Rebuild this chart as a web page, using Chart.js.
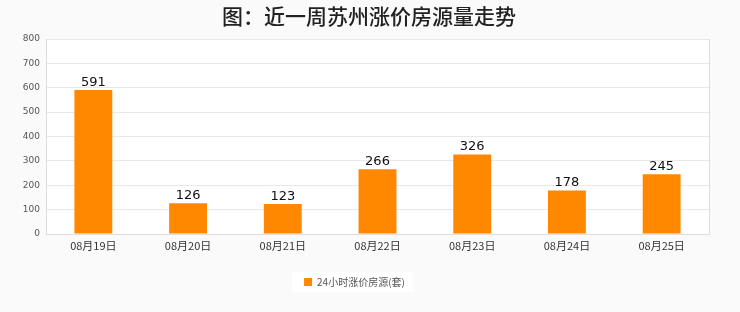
<!DOCTYPE html>
<html><head><meta charset="utf-8">
<script src="https://cdn.jsdelivr.net/npm/chart.js@4/dist/chart.umd.min.js"></script>
<style>html,body{margin:0;padding:0;background:#fafafa;}#wrap{width:740px;height:312px;}</style>
</head><body><div id="wrap"><canvas id="c" width="740" height="312"></canvas></div>
<script>
const categories = ["08月19日","08月20日","08月21日","08月22日","08月23日","08月24日","08月25日"];
const seriesName = "24小时涨价房源(套)";
const values = [591,126,123,266,326,178,245];
const titleText = "图：近一周苏州涨价房源量走势";

const bgPlugin = {
  id:'bg',
  beforeDraw(chart){
    const {ctx, chartArea:a} = chart;
    ctx.save(); ctx.fillStyle='#ffffff';
    ctx.fillRect(a.left,a.top,a.right-a.left,a.bottom-a.top);
    const lg = chart.legend;
    if (lg && lg.legendHitBoxes && lg.legendHitBoxes.length){
      const h = lg.legendHitBoxes[0];
      ctx.fillRect(h.left-12, h.top-5, h.width+20, h.height+10);
    }
    ctx.restore();
  },
  afterDraw(chart){
    const ctx = chart.ctx; const a = chart.chartArea;
    ctx.save();
    ctx.fillStyle='#222';
    ctx.font='500 21px "Noto Sans CJK SC"';
    ctx.textAlign='center'; ctx.textBaseline='middle';
    ctx.fillText(titleText, 369, 16);
    ctx.strokeStyle='#dddddd'; ctx.lineWidth=1;
    ctx.beginPath(); ctx.moveTo(Math.round(a.right)+0.5,a.top); ctx.lineTo(Math.round(a.right)+0.5,a.bottom); ctx.stroke();
    const meta = chart.getDatasetMeta(0);
    ctx.fillStyle='#111'; ctx.font='13px "DejaVu Sans"'; ctx.textBaseline='bottom';
    meta.data.forEach((bar,i)=>{ ctx.fillText(String(values[i]), bar.x, bar.y-1); });
    ctx.restore();
  }
};

new Chart(document.getElementById('c'), {
  type:'bar',
  data:{labels:categories, datasets:[{label:seriesName, data:values, backgroundColor:'#ff8800', borderWidth:0, barPercentage:0.4, categoryPercentage:1}]},
  options:{
    responsive:false, animation:false,
    layout:{padding:{top:39,right:31,bottom:15,left:0}},
    plugins:{
      title:{display:false},
      tooltip:{enabled:false},
      legend:{display:true, position:'bottom',
        labels:{boxWidth:8, boxHeight:8, padding:10, color:'#555', font:{size:10, family:'"Noto Sans CJK SC"'}}}
    },
    scales:{
      x:{
        grid:{display:false, drawTicks:false},
        border:{display:true, color:'#dddddd'},
        ticks:{color:'#333', font:{size:11, family:'"Noto Sans CJK SC"'}, padding:5, maxRotation:0},
        afterFit(s){ s.height = 33; }
      },
      y:{
        min:0, max:800,
        grid:{color:'#e8e8e8', drawTicks:false},
        border:{display:true, color:'#dddddd'},
        ticks:{stepSize:100, color:'#555', font:{size:9, family:'"DejaVu Sans"'}, padding:6},
        afterFit(s){ s.width = 46; }
      }
    }
  },
  plugins:[bgPlugin]
});
</script></body></html>
